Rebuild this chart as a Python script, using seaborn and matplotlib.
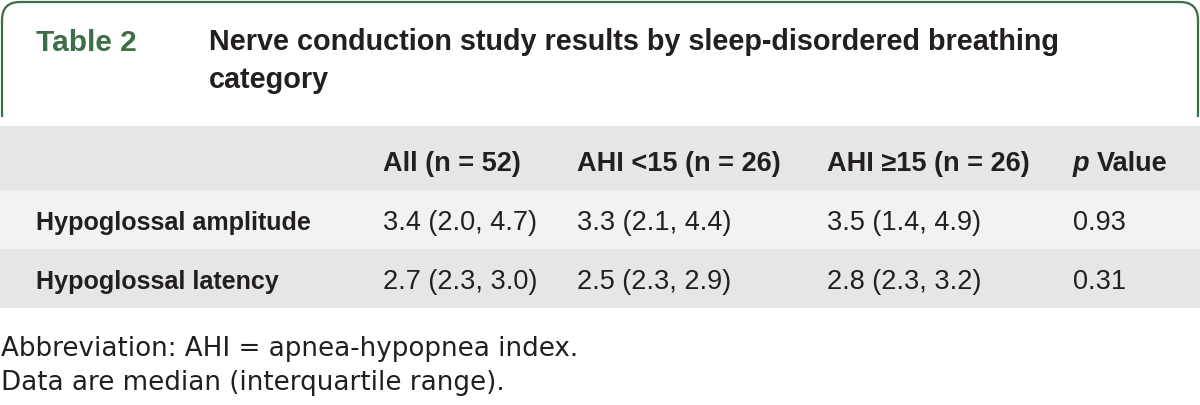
import matplotlib
matplotlib.use("Agg")
import matplotlib.pyplot as plt
from matplotlib.patches import FancyBboxPatch, Rectangle
import seaborn as sns

# Table content
table_label = "Table 2"
title_lines = ["Nerve conduction study results by sleep-disordered breathing", "category"]
col_headers = ["All (n = 52)", "AHI <15 (n = 26)", "AHI \u226515 (n = 26)", "Value"]
row_labels = ["Hypoglossal amplitude", "Hypoglossal latency"]
cell_values = [
    ["3.4 (2.0, 4.7)", "3.3 (2.1, 4.4)", "3.5 (1.4, 4.9)", "0.93"],
    ["2.7 (2.3, 3.0)", "2.5 (2.3, 2.9)", "2.8 (2.3, 3.2)", "0.31"],
]
footnotes = ["Abbreviation: AHI = apnea-hypopnea index.",
             "Data are median (interquartile range)."]

sns.set_theme(style="white")
plt.rcParams['font.family'] = ['Liberation Sans', 'DejaVu Sans']

green = "#3d6e47"
ink = "#231f20"

fig = plt.figure(figsize=(12, 4.05), dpi=100)
ax = fig.add_axes([0, 0, 1, 1])
ax.set_xlim(0, 1200)
ax.set_ylim(405, 0)
ax.axis("off")

# rounded green frame around the title block
frame = FancyBboxPatch((2, 2), 1196, 160, boxstyle="round,pad=0,rounding_size=18",
                       fill=False, edgecolor=green, linewidth=1.6, zorder=1)
ax.add_patch(frame)
ax.add_patch(Rectangle((0, 117), 1200, 60, facecolor="white", edgecolor="none", zorder=2))

ax.text(36, 51, table_label, color=green, fontsize=21.5, fontweight="bold", va="baseline")
for i, line in enumerate(title_lines):
    ax.text(209, 50 + i * 38, line, color=ink, fontsize=20.7, fontweight="bold", va="baseline")

# row bands
band_edges = [126, 190, 249, 308]
band_colors = ["#e6e6e6", "#f2f2f2", "#e6e6e6"]
for (y0, y1), c in zip(zip(band_edges[:-1], band_edges[1:]), band_colors):
    ax.add_patch(Rectangle((0, y0), 1200, y1 - y0, facecolor=c, edgecolor="none", zorder=3))

col_x = [383, 577, 827, 1073]
hfs = 19.5
header_y = 171
for j, h in enumerate(col_headers):
    if j == 3:
        ax.text(col_x[j], header_y, "p", color=ink, fontsize=hfs, fontweight="bold",
                fontstyle="italic", va="baseline", zorder=4)
        ax.text(col_x[j] + 24, header_y, h, color=ink, fontsize=hfs, fontweight="bold",
                va="baseline", zorder=4)
    else:
        ax.text(col_x[j], header_y, h, color=ink, fontsize=hfs, fontweight="bold",
                va="baseline", zorder=4)

row_y = [230, 289]
for i, lab in enumerate(row_labels):
    ax.text(36, row_y[i], lab, color=ink, fontsize=18.1, fontweight="bold",
            va="baseline", zorder=4)
    for j, v in enumerate(cell_values[i]):
        ax.text(col_x[j], row_y[i], v, color=ink, fontsize=19.5, va="baseline", zorder=4)

for i, f in enumerate(footnotes):
    ax.text(1, 356 + i * 34, f, color=ink, fontsize=18.8, va="baseline",
            family=['DejaVu Sans'])

fig.savefig("out.png", dpi=100)
